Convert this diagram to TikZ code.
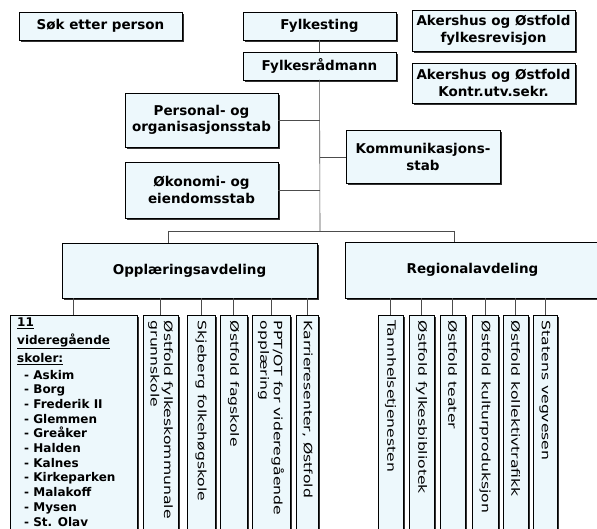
\documentclass[tikz,border=0pt]{standalone}
\usepackage{fontspec}
\setmainfont{DejaVu Sans}
\usetikzlibrary{shadows}

\definecolor{boxfill}{HTML}{EDF8FC}

\tikzset{
  box/.style={draw=black, fill=boxfill, line width=0.7pt, align=center,
    inner sep=2pt, outer sep=0pt,
    font=\bfseries\fontsize{13.5}{16.5}\selectfont,
    drop shadow={shadow xshift=1.6pt, shadow yshift=-1.6pt, fill=black!80, opacity=1}},
  vbox/.style={box, minimum height=225pt, anchor=north},
  vtext/.style={rotate=-90, xscale=1.36, anchor=west, align=left, inner sep=4pt,
    font=\fontsize{11.5}{13.5}\selectfont},
  link/.style={draw=black!70, line width=0.6pt},
}

\begin{document}
\begin{tikzpicture}[x=1pt,y=-1pt]
  \useasboundingbox (0,0) rectangle (597,529);
  \clip (0,0) rectangle (597,529);
  \fill[white] (0,0) rectangle (597,529);

  % top row
  \node[box, minimum width=163pt, minimum height=28pt] (sok) at (100.5,26) {Søk etter person};
  \node[box, minimum width=153pt, minimum height=28pt] (ting) at (319.5,26) {Fylkesting};
  \node[box, minimum width=153pt, minimum height=28pt] (radmann) at (319.5,66) {Fylkesrådmann};
  \node[box, minimum width=163pt, minimum height=41pt] (revisjon) at (493.5,30.5) {Akershus og Østfold\\fylkesrevisjon};
  \node[box, minimum width=163pt, minimum height=40pt] (sekr) at (493.5,83) {Akershus og Østfold\\Kontr.utv.sekr.};

  % staber
  \node[box, minimum width=153pt, minimum height=54pt] (personal) at (201.5,120) {Personal- og\\organisasjonsstab};
  \node[box, minimum width=153pt, minimum height=56pt] (okonomi) at (201.5,190) {Økonomi- og\\eiendomsstab};
  \node[box, minimum width=154pt, minimum height=53pt] (kommunikasjon) at (423,157) {Kommunikasjons-\\stab};

  % avdelinger
  \node[box, minimum width=255pt, minimum height=55pt] (opplaring) at (189.5,270.5) {Opplæringsavdeling};
  \node[box, minimum width=255pt, minimum height=56pt] (regional) at (472.5,270) {Regionalavdeling};

  \coordinate (bus) at (320,231);
  \coordinate (bus-w) at (168,231);
  \coordinate (bus-e) at (454,231);
  \draw[link] (ting) -- (radmann);
  \draw[link] (radmann) -- (bus);
  \draw[link] (personal.east) -- (personal.east -| bus);
  \draw[link] (okonomi.east) -- (okonomi.east -| bus);
  \draw[link] (kommunikasjon.west) -- (kommunikasjon.west -| bus);
  \draw[link] (bus-w) -- (bus-e);
  \draw[link] (bus-w) -- (bus-w |- opplaring.north);
  \draw[link] (bus-e) -- (bus-e |- regional.north);

  % under opplaeringsavdelingen
  \node[vbox, minimum width=127pt] (skoler) at (73.5,315) {};
  \node[anchor=north west, align=left, inner sep=0pt,
    font=\bfseries\fontsize{12}{14.7}\selectfont] (skoler-t)
    at ([xshift=7pt,yshift=-3pt]skoler.north west)
    {\underline{11}\\[3pt] \underline{videregående}\\[3pt] \underline{skoler:}\\[2pt]
     \hspace*{7pt}- Askim\\ \hspace*{7pt}- Borg\\ \hspace*{7pt}- Frederik II\\
     \hspace*{7pt}- Glemmen\\ \hspace*{7pt}- Greåker\\ \hspace*{7pt}- Halden\\
     \hspace*{7pt}- Kalnes\\ \hspace*{7pt}- Kirkeparken\\ \hspace*{7pt}- Malakoff\\
     \hspace*{7pt}- Mysen\\ \hspace*{7pt}- St. Olav};
  \node[vbox, minimum width=35pt] (grunnskole) at (160.5,315) {};
  \node[vtext] (grunnskole-t) at (grunnskole.north) {Østfold fylkeskommunale\\grunnskole};
  \node[vbox, minimum width=28pt] (skjeberg) at (201,315) {};
  \node[vtext] (skjeberg-t) at (skjeberg.north) {Skjeberg folkehøgskole};
  \node[vbox, minimum width=27pt] (fagskole) at (233.5,315) {};
  \node[vtext] (fagskole-t) at (fagskole.north) {Østfold fagskole};
  \node[vbox, minimum width=38pt] (ppt) at (271,315) {};
  \node[vtext] (ppt-t) at (ppt.north) {PPT/OT for videregående\\opplæring};
  \node[vbox, minimum width=22pt] (karriere) at (307.5,315) {};
  \node[vtext] (karriere-t) at (karriere.north) {Karrieresenter, Østfold};

  \draw[link] (skoler.north) -- (skoler.north |- opplaring.south);
  \draw[link] (grunnskole.north) -- (grunnskole.north |- opplaring.south);
  \draw[link] (skjeberg.north) -- (skjeberg.north |- opplaring.south);
  \draw[link] (fagskole.north) -- (fagskole.north |- opplaring.south);
  \draw[link] (ppt.north) -- (ppt.north |- opplaring.south);
  \draw[link] (karriere.north) -- (karriere.north |- opplaring.south);

  % under regionalavdelingen
  \node[vbox, minimum width=25pt] (tann) at (390.5,315) {};
  \node[vtext] (tann-t) at (tann.north) {Tannhelsetjenesten};
  \node[vbox, minimum width=25pt] (bibliotek) at (421.5,315) {};
  \node[vtext] (bibliotek-t) at (bibliotek.north) {Østfold fylkesbibliotek};
  \node[vbox, minimum width=25pt] (teater) at (452.5,315) {};
  \node[vtext] (teater-t) at (teater.north) {Østfold teater};
  \node[vbox, minimum width=26pt] (kultur) at (485,315) {};
  \node[vtext] (kultur-t) at (kultur.north) {Østfold kulturproduksjon};
  \node[vbox, minimum width=25pt] (kollektiv) at (515.5,315) {};
  \node[vtext] (kollektiv-t) at (kollektiv.north) {Østfold kollektivtrafikk};
  \node[vbox, minimum width=24pt] (vegvesen) at (545,315) {};
  \node[vtext] (vegvesen-t) at (vegvesen.north) {Statens vegvesen};

  \draw[link] (tann.north) -- (tann.north |- regional.south);
  \draw[link] (bibliotek.north) -- (bibliotek.north |- regional.south);
  \draw[link] (teater.north) -- (teater.north |- regional.south);
  \draw[link] (kultur.north) -- (kultur.north |- regional.south);
  \draw[link] (kollektiv.north) -- (kollektiv.north |- regional.south);
  \draw[link] (vegvesen.north) -- (vegvesen.north |- regional.south);
\end{tikzpicture}
\end{document}
